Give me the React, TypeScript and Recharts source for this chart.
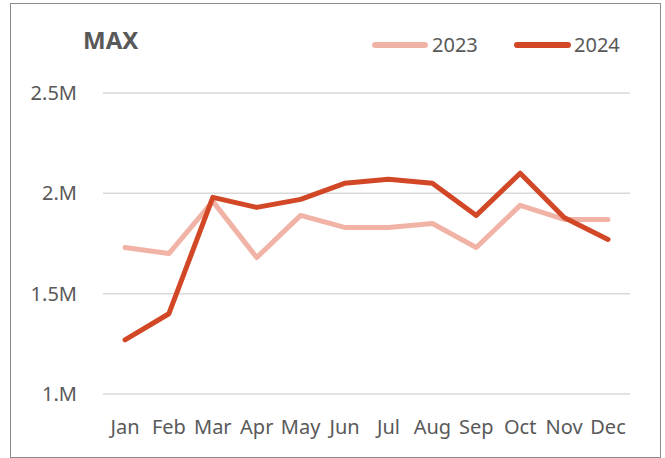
import { CartesianGrid, Line, LineChart, XAxis, YAxis } from "recharts";

const months = ["Jan", "Feb", "Mar", "Apr", "May", "Jun", "Jul", "Aug", "Sep", "Oct", "Nov", "Dec"];
const max2023 = [1730000, 1700000, 1960000, 1680000, 1890000, 1830000, 1830000, 1850000, 1730000, 1940000, 1870000, 1870000];
const max2024 = [1270000, 1400000, 1980000, 1930000, 1970000, 2050000, 2070000, 2050000, 1890000, 2100000, 1880000, 1770000];
const yTicks = [1000000, 1500000, 2000000, 2500000];
const yTickLabels = ["1.M", "1.5M", "2.M", "2.5M"];

const data = months.map((m, i) => ({ month: m, y2023: max2023[i], y2024: max2024[i] }));

const FONT = "'Noto Sans', sans-serif";
const TEXT = "#595959";
const C2023 = "#f0b3a6";
const C2024 = "#d24726";

export default function App() {
  return (
    <div
      style={{
        position: "absolute",
        left: 10,
        top: 3,
        width: 651,
        height: 455,
        boxSizing: "border-box",
        border: "1px solid #8c8c8c",
        background: "#fff",
        fontFamily: FONT,
      }}
    >
      <svg
        width={649}
        height={100}
        style={{ position: "absolute", left: 0, top: 0, pointerEvents: "none" }}
      >
        <text x={72} y={45} fontSize={24} fontWeight={700} fill={TEXT} fontFamily={FONT}>
          MAX
        </text>
        <line x1={364} x2={414} y1={41} y2={41} stroke={C2023} strokeWidth={6} strokeLinecap="round" />
        <text x={421} y={48} fontSize={20} fill={TEXT} fontFamily={FONT}>
          2023
        </text>
        <line x1={506} x2={557} y1={41} y2={41} stroke={C2024} strokeWidth={6} strokeLinecap="round" />
        <text x={563} y={48} fontSize={20} fill={TEXT} fontFamily={FONT}>
          2024
        </text>
      </svg>
      <LineChart
        width={649}
        height={453}
        data={data}
        margin={{ top: 89, right: 30, bottom: 30, left: 0 }}
      >
        <CartesianGrid vertical={false} stroke="#d9d9d9" strokeWidth={1.5} />
        <XAxis
          dataKey="month"
          axisLine={false}
          tickLine={false}
          tickSize={0}
          tickMargin={26}
          height={33}
          interval={0}
          padding={{ left: 22, right: 22 }}
          tick={{ fill: TEXT, fontSize: 20, fontFamily: FONT }}
        />
        <YAxis
          width={92}
          domain={[1000000, 2500000]}
          ticks={yTicks}
          tickFormatter={(v: number) => yTickLabels[yTicks.indexOf(v)] ?? String(v)}
          axisLine={false}
          tickLine={false}
          tickSize={0}
          tickMargin={26}
          tick={{ fill: TEXT, fontSize: 20, fontFamily: FONT }}
        />
        <Line
          type="linear"
          dataKey="y2023"
          stroke={C2023}
          strokeWidth={5}
          strokeLinecap="round"
          strokeLinejoin="round"
          dot={false}
          activeDot={false}
          isAnimationActive={false}
        />
        <Line
          type="linear"
          dataKey="y2024"
          stroke={C2024}
          strokeWidth={5}
          strokeLinecap="round"
          strokeLinejoin="round"
          dot={false}
          activeDot={false}
          isAnimationActive={false}
        />
      </LineChart>
    </div>
  );
}
